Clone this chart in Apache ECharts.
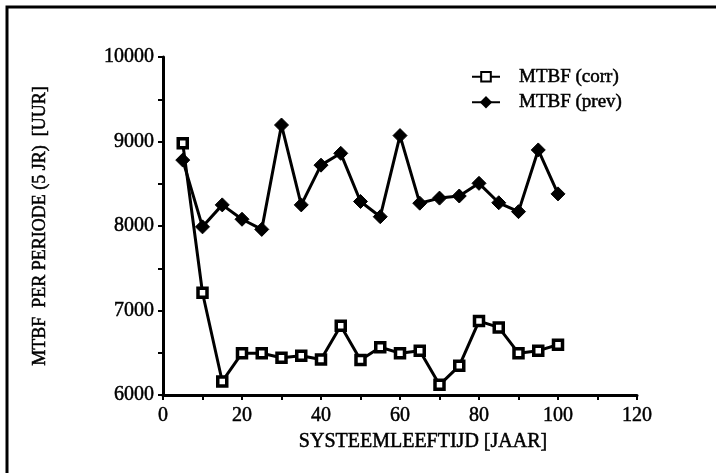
<!DOCTYPE html>
<html>
<head>
<meta charset="utf-8">
<script src="https://cdn.jsdelivr.net/npm/echarts@6/dist/echarts.min.js"></script>
<style>
html,body{margin:0;padding:0;background:#fff;}
#c{width:716px;height:473px;}
</style>
</head>
<body>
<div id="c"></div>
<script>
var ages = [5,10,15,20,25,30,35,40,45,50,55,60,65,70,75,80,85,90,95,100];
var mtbfCorr = [8980,7210,6160,6495,6495,6440,6465,6420,6820,6415,6565,6495,6525,6120,6345,6875,6800,6495,6525,6595];
var mtbfPrev = [8780,7990,8250,8080,7960,9195,8250,8720,8860,8290,8110,9070,8270,8330,8355,8505,8275,8170,8900,8380];
var xTicks = [0,20,40,60,80,100,120];
var yTicks = [6000,7000,8000,9000,10000];

var font = 'Liberation Serif';
var txt = {fontFamily:font, color:'#000', textBorderColor:'#000', textBorderWidth:0.5};
function T(extra){ var o = {}; for (var k in txt) o[k]=txt[k]; for (var k2 in extra) o[k2]=extra[k2]; return o; }
var chart = echarts.init(document.getElementById('c'), null, {renderer:'canvas'});
function pairs(xs, ys){ return xs.map(function(x,i){ return [x, ys[i]]; }); }

chart.setOption({
  backgroundColor:'#fff',
  animation:false,
  grid:{left:163, right:79, top:57, bottom:78, containLabel:false},
  graphic:[{
    type:'polyline',
    shape:{points:[[7,473],[7,7],[716,7]]},
    style:{stroke:'#000', lineWidth:3, fill:null}
  }],
  legend:{
    left:466, top:62, orient:'vertical', itemGap:6,
    itemWidth:28, itemHeight:12,
    textStyle:T({fontSize:19, padding:[0,0,0,14]}),
    data:['MTBF (corr)','MTBF (prev)']
  },
  xAxis:{
    type:'value', min:xTicks[0], max:xTicks[xTicks.length-1], interval:20,
    name:'SYSTEEMLEEFTIJD [JAAR]', nameLocation:'middle', nameGap:37,
    nameTextStyle:T({fontSize:20, padding:[0,0,0,46]}),
    axisLine:{show:true, onZero:false, lineStyle:{color:'#000', width:3}},
    axisTick:{show:true, length:5, lineStyle:{color:'#000', width:2}},
    minorTick:{show:true, splitNumber:2, length:5, lineStyle:{color:'#000', width:2}},
    splitLine:{show:false},
    axisLabel:T({fontSize:20, margin:11})
  },
  yAxis:{
    type:'value', min:yTicks[0], max:yTicks[yTicks.length-1], interval:1000,
    name:'MTBF  PER PERIODE (5 JR)  [UUR]', nameLocation:'middle', nameGap:114, nameRotate:90,
    nameTextStyle:T({fontSize:18}),
    axisLine:{show:true, onZero:false, lineStyle:{color:'#000', width:3}},
    axisTick:{show:true, length:5, lineStyle:{color:'#000', width:2}},
    minorTick:{show:true, splitNumber:2, length:5, lineStyle:{color:'#000', width:2}},
    splitLine:{show:false},
    axisLabel:T({fontSize:20, margin:9, formatter:function(v){ return String(v); }})
  },
  series:[
    {
      name:'MTBF (corr)', type:'line', data:pairs(ages, mtbfCorr),
      symbol:'rect', symbolSize:9, showAllSymbol:true,
      lineStyle:{color:'#000', width:3},
      itemStyle:{color:'#fff', borderColor:'#000', borderWidth:3.5},
      z:3
    },
    {
      name:'MTBF (prev)', type:'line', data:pairs(ages, mtbfPrev),
      symbol:'diamond', symbolSize:14, showAllSymbol:true,
      lineStyle:{color:'#000', width:3},
      itemStyle:{color:'#000', borderColor:'#000', borderWidth:1},
      z:2
    }
  ]
});
</script>
</body>
</html>
